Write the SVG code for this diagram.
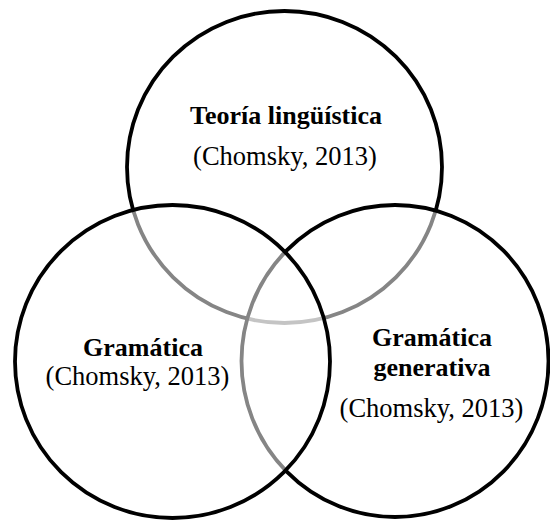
<svg xmlns="http://www.w3.org/2000/svg" width="550" height="523" viewBox="0 0 550 523">
<style>
.c{fill:#ffffff;fill-opacity:0.52;stroke:#000;stroke-width:3.8}
.b{font-family:"Liberation Serif","Times New Roman",serif;font-weight:bold;font-size:26px;fill:#000;text-anchor:middle}
.r{font-family:"Liberation Serif","Times New Roman",serif;font-size:26.5px;fill:#000;text-anchor:middle}
</style>
<rect width="550" height="523" fill="#fff"/>
<g id="teoria">
<ellipse class="c" cx="284.5" cy="167" rx="157.5" ry="156"/>
<text class="b" x="286" y="124">Teoría lingüística</text>
<text class="r" x="285" y="165">(Chomsky, 2013)</text>
</g>
<g id="gramatica-generativa">
<ellipse class="c" cx="395" cy="361" rx="153.5" ry="156"/>
<text class="b" x="432" y="346">Gramática</text>
<text class="b" x="432" y="376">generativa</text>
<text class="r" x="431.5" y="417">(Chomsky, 2013)</text>
</g>
<g id="gramatica">
<ellipse class="c" cx="172.5" cy="361.5" rx="157.5" ry="156.5"/>
<text class="b" x="143" y="356">Gramática</text>
<text class="r" x="137.5" y="385">(Chomsky, 2013)</text>
</g>
<g id="connectors"></g>
</svg>
